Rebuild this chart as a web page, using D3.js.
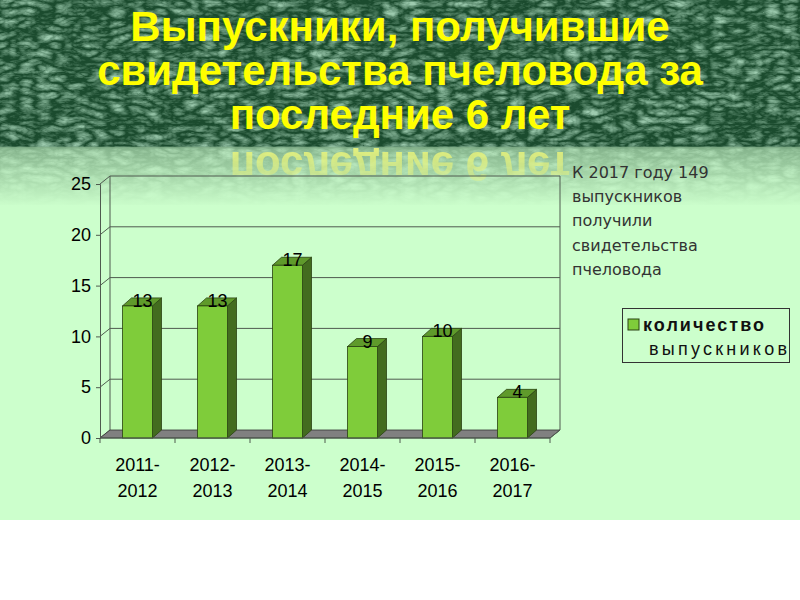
<!DOCTYPE html>
<html>
<head>
<meta charset="utf-8">
<script src="https://cdn.jsdelivr.net/npm/d3@7"></script>
<style>
  body { margin: 0; background: #fff; }
  svg { display: block; font-family: "Liberation Sans", Arial, sans-serif; }
</style>
</head>
<body>
<svg id="chart"></svg>
<script>
// data
const categories = ["2011-2012", "2012-2013", "2013-2014", "2014-2015", "2015-2016", "2016-2017"];
const graduates = [13, 13, 17, 9, 10, 4];
const yTicks = [0, 5, 10, 15, 20, 25];
const titleLines = ["Выпускники, получившие", "свидетельства пчеловода за", "последние 6 лет"];
const noteLines = ["К 2017 году 149", "выпускников", "получили", "свидетельства", "пчеловода"];
const legendLines = ["количество", "выпускников"];

const width = 800, height = 600;
const svg = d3.select("#chart").attr("width", width).attr("height", height);
const defs = svg.append("defs");

// textured dark green background
const tex = defs.append("filter").attr("id", "tex").attr("x", 0).attr("y", 0).attr("width", 1).attr("height", 1);
tex.append("feTurbulence").attr("type", "turbulence").attr("baseFrequency", "0.055 0.12")
   .attr("numOctaves", 3).attr("seed", 11).attr("result", "n");
tex.append("feColorMatrix").attr("in", "n").attr("type", "matrix")
   .attr("values", "0 0 0 0 0.34  0 0 0 0 0.6  0 0 0 0 0.43  1.5 0 0 0 -0.2");

const fade = defs.append("linearGradient").attr("id", "fade").attr("x1", 0).attr("y1", 0).attr("x2", 0).attr("y2", 1);
fade.append("stop").attr("offset", "0%").attr("stop-color", "#c4f2c4").attr("stop-opacity", 0.62);
fade.append("stop").attr("offset", "100%").attr("stop-color", "#ccffcc").attr("stop-opacity", 1);

const reflFade = defs.append("linearGradient").attr("id", "reflFade").attr("x1", 0).attr("y1", 0).attr("x2", 0).attr("y2", 1);
reflFade.append("stop").attr("offset", "0%").attr("stop-color", "#fff").attr("stop-opacity", 0.95);
reflFade.append("stop").attr("offset", "100%").attr("stop-color", "#fff").attr("stop-opacity", 0.1);
defs.append("mask").attr("id", "reflMask").attr("maskUnits", "userSpaceOnUse")
    .append("rect").attr("x", 0).attr("y", 148).attr("width", width).attr("height", 50).attr("fill", "url(#reflFade)");

svg.append("rect").attr("width", width).attr("height", 520).attr("fill", "#ccffcc");
svg.append("rect").attr("width", width).attr("height", 205).attr("fill", "#1b4b2e");
svg.append("rect").attr("width", width).attr("height", 205).attr("filter", "url(#tex)");
svg.append("rect").attr("y", 147).attr("width", width).attr("height", 60).attr("fill", "url(#fade)");
svg.append("rect").attr("y", 207).attr("width", width).attr("height", 313).attr("fill", "#ccffcc");
svg.append("line").attr("x1", 0).attr("x2", width).attr("y1", 147.5).attr("y2", 147.5)
   .attr("stroke", "#6f9c78").attr("stroke-width", 2).attr("opacity", 0.6);

// title + reflection
const title = svg.append("g").attr("font-weight", "bold").attr("font-size", 42)
   .attr("text-anchor", "middle").attr("fill", "#ffff00");
title.selectAll("text").data(titleLines).enter().append("text")
   .attr("x", 400).attr("y", (d, i) => 41 + i * 44).text(d => d);

svg.append("g").attr("mask", "url(#reflMask)")
   .append("text").attr("transform", "translate(0,281) scale(1,-1)")
   .attr("x", 400).attr("y", 129).attr("text-anchor", "middle")
   .attr("font-weight", "bold").attr("font-size", 42).attr("fill", "#e6f27c")
   .text(titleLines[2]);

// chart
const dx = 10, dy = -8;      // wall depth
const bdx = 9, bdy = -8;     // bar depth
const x = d3.scaleBand().domain(categories).range([100, 550]).paddingInner(0.6).paddingOuter(0.3);
const y = d3.scaleLinear().domain([0, 25]).range([438, 184]);
const x0 = x.range()[0], x1 = x.range()[1];
const g = svg.append("g");
const gridColor = "#4f5a4f";

// back wall gridlines
g.selectAll("line.grid").data(yTicks.filter(d => d > 0)).enter().append("line")
  .attr("class", "grid")
  .attr("x1", x0 + dx).attr("x2", x1 + dx)
  .attr("y1", d => y(d) + dy).attr("y2", d => y(d) + dy)
  .attr("stroke", gridColor).attr("stroke-width", 1);
g.selectAll("line.diag").data(yTicks).enter().append("line")
  .attr("x1", x0).attr("y1", d => y(d)).attr("x2", x0 + dx).attr("y2", d => y(d) + dy)
  .attr("stroke", gridColor);
[x0 + dx, x1 + dx].forEach(xx => {
  g.append("line").attr("x1", xx).attr("x2", xx)
    .attr("y1", y(25) + dy).attr("y2", y(0) + dy).attr("stroke", gridColor);
});

// floor
g.append("polygon")
  .attr("points", [[x0, y(0)], [x1, y(0)], [x1 + dx, y(0) + dy], [x0 + dx, y(0) + dy]].join(" "))
  .attr("fill", "#808080").attr("stroke", "#333").attr("stroke-width", 0.8);

// bars
const bw = x.bandwidth();
const bars = g.selectAll("g.bar").data(categories).enter().append("g").attr("class", "bar");
bars.append("polygon")
  .attr("points", (c, i) => {
    const xl = x(c), yt = y(graduates[i]);
    return [[xl + bw, yt], [xl + bw + bdx, yt + bdy], [xl + bw + bdx, y(0) + bdy], [xl + bw, y(0)]].join(" ");
  })
  .attr("fill", "#436c1f").attr("stroke", "#2a4212").attr("stroke-width", 0.8);
bars.append("polygon")
  .attr("points", (c, i) => {
    const xl = x(c), yt = y(graduates[i]);
    return [[xl, yt], [xl + bdx, yt + bdy], [xl + bw + bdx, yt + bdy], [xl + bw, yt]].join(" ");
  })
  .attr("fill", "#5f9a2b").attr("stroke", "#2a4212").attr("stroke-width", 0.8);
bars.append("rect")
  .attr("x", c => x(c)).attr("y", (c, i) => y(graduates[i]))
  .attr("width", bw).attr("height", (c, i) => y(0) - y(graduates[i]))
  .attr("fill", "#7fcc3a").attr("stroke", "#2a4212").attr("stroke-width", 0.8);
bars.append("text")
  .attr("x", c => x(c) + bw / 2 + 5).attr("y", (c, i) => y(graduates[i]) + 1)
  .attr("text-anchor", "middle").attr("font-size", 18).attr("fill", "#000")
  .text((c, i) => graduates[i]);

// y axis
const yAxis = g.append("g").attr("transform", `translate(${x0},0)`)
  .call(d3.axisLeft(y).tickValues(yTicks).tickSize(4).tickPadding(5));
yAxis.select(".domain").attr("stroke", gridColor);
yAxis.selectAll(".tick line").attr("stroke", gridColor);
yAxis.selectAll(".tick text").attr("font-size", 18).attr("fill", "#000").attr("font-family", null);

// x axis (ticks at band edges, labels at band centres)
g.append("line").attr("x1", x0).attr("x2", x1).attr("y1", y(0)).attr("y2", y(0)).attr("stroke", gridColor);
g.append("line").attr("x1", x1).attr("y1", y(0)).attr("x2", x1 + dx).attr("y2", y(0) + dy).attr("stroke", gridColor);
const step = x.step();
g.selectAll("line.xt").data(d3.range(categories.length + 1)).enter().append("line")
  .attr("x1", i => x0 + i * step).attr("x2", i => x0 + i * step)
  .attr("y1", y(0)).attr("y2", y(0) + 5).attr("stroke", gridColor);
const xl = g.selectAll("text.xl").data(categories).enter().append("text")
  .attr("text-anchor", "middle").attr("font-size", 18).attr("fill", "#000");
xl.append("tspan").attr("x", c => x(c) + bw / 2).attr("y", 471).text(c => c.split("-")[0] + "-");
xl.append("tspan").attr("x", c => x(c) + bw / 2).attr("y", 497).text(c => c.split("-")[1]);

// note
svg.append("g").attr("font-family", "DejaVu Sans").attr("font-size", 16).attr("fill", "#333")
  .selectAll("text").data(noteLines).enter().append("text")
  .attr("x", 572).attr("y", (d, i) => 178 + i * 24.2).text(d => d);

// legend
const lg = svg.append("g");
lg.append("rect").attr("x", 622.5).attr("y", 308.5).attr("width", 167).attr("height", 54)
  .attr("fill", "none").attr("stroke", "#333");
lg.append("rect").attr("x", 628).attr("y", 319).attr("width", 11).attr("height", 11)
  .attr("fill", "#7fcc3a").attr("stroke", "#2a4212");
lg.append("text").attr("x", 643).attr("y", 331).attr("font-size", 18).attr("font-weight", "bold")
  .attr("textLength", 121).attr("fill", "#111").text(legendLines[0]);
lg.append("text").attr("x", 649).attr("y", 355).attr("font-size", 18)
  .attr("textLength", 138).attr("fill", "#111").text(legendLines[1]);
</script>
</body>
</html>
